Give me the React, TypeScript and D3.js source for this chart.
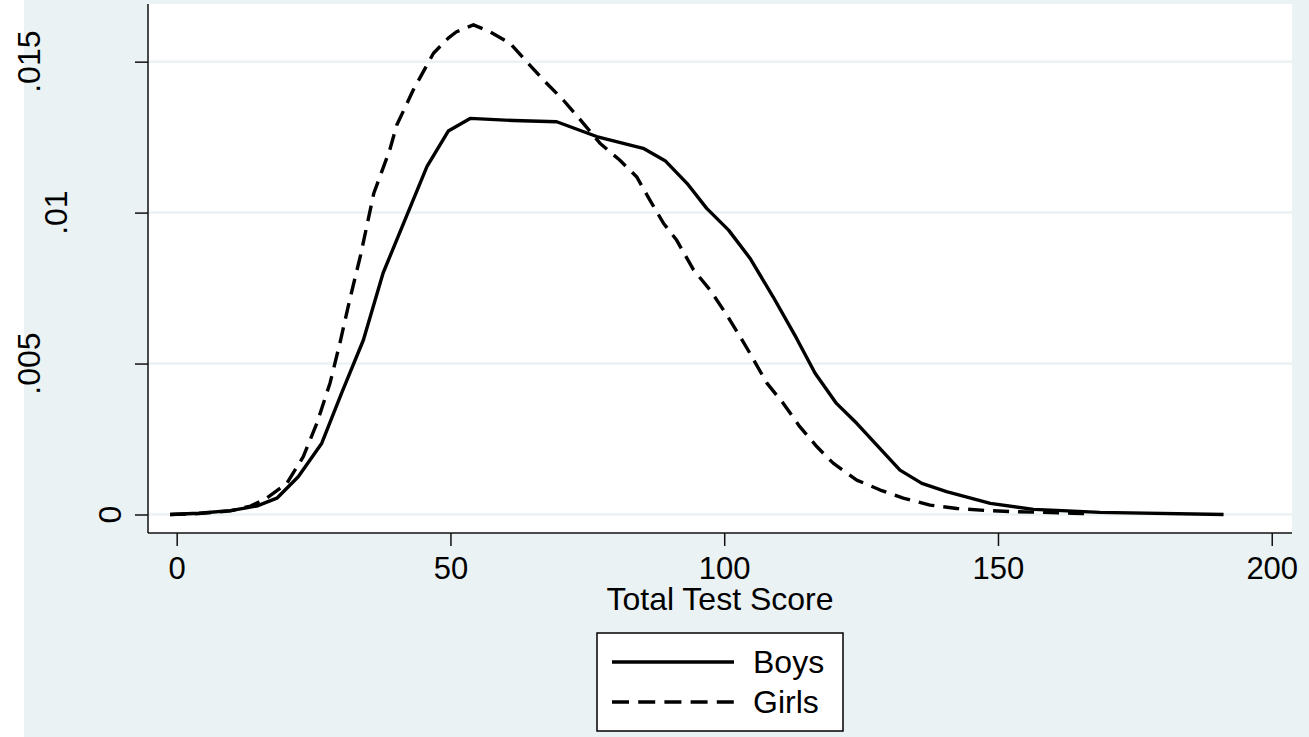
import React, { useEffect, useRef } from "react";
import * as d3 from "d3";

// kernel density estimates: [score, density]
const boysScore = [-1.2, 4, 9.8, 14.6, 18.3, 22.2, 26.5, 30.1, 34.1, 37.7, 45.7, 49.6, 53.6, 61.5, 69.4, 76.7, 85.2, 89.2, 93.2, 96.8, 100.8, 104.7, 108.9, 113.2, 116.6, 120.5, 124.2, 132.1, 136.1, 140.6, 148.6, 156.5, 168.6, 191.2];
const boysDensity = [0, 0.00004, 0.00013, 0.00028, 0.00054, 0.00125, 0.00236, 0.00401, 0.00578, 0.008, 0.01152, 0.0127, 0.01312, 0.01305, 0.01301, 0.01252, 0.01213, 0.01172, 0.01097, 0.01014, 0.00942, 0.00849, 0.00722, 0.00584, 0.00468, 0.00368, 0.00302, 0.00147, 0.00103, 0.00076, 0.00037, 0.00017, 0.00007, 0];

const girlsScore = [-1.2, 4, 9.8, 13.5, 16.4, 20.1, 23.1, 25.6, 28.0, 29.8, 31.6, 33.6, 36.0, 38.9, 40.2, 43.2, 46.9, 49.6, 51.1, 54.2, 57.2, 60.9, 63.9, 67.0, 70.6, 73.5, 77.3, 80.9, 84.0, 86.4, 88.9, 91.3, 94.4, 97.4, 100.5, 102.9, 104.7, 107.8, 110.8, 113.8, 116.9, 119.9, 124.2, 128.5, 132.7, 137.6, 142.5, 148.0, 153.4, 158.3, 163.7, 166];
const girlsDensity = [0, 0.00003, 0.00012, 0.00028, 0.00054, 0.00103, 0.00191, 0.00302, 0.00435, 0.00567, 0.00711, 0.0086, 0.01064, 0.01207, 0.0129, 0.01406, 0.01528, 0.01578, 0.01599, 0.01622, 0.01599, 0.01561, 0.015, 0.01439, 0.01373, 0.01312, 0.0123, 0.01174, 0.01119, 0.01042, 0.00965, 0.00909, 0.0081, 0.00744, 0.0066, 0.00589, 0.00534, 0.00435, 0.00368, 0.00291, 0.00225, 0.0017, 0.00114, 0.00081, 0.00054, 0.00031, 0.0002, 0.00013, 0.00009, 0.00007, 0.00004, 0.00003];

const xTicks = [0, 50, 100, 150, 200];
const yTicks = [0, 0.005, 0.01, 0.015];
const yTickLabels = ["0", ".005", ".01", ".015"];
const seriesNames = ["Boys", "Girls"];

const width = 1309;
const height = 737;
const bg = "#eaf2f3";
const font = "'Liberation Sans', Arial, Helvetica, sans-serif";

export default function App() {
  const ref = useRef<SVGSVGElement>(null);

  useEffect(() => {
    const svg = d3.select(ref.current);
    svg.selectAll("*").remove();

    const plot = { left: 148, right: 1292, top: 4, bottom: 533 };

    const x = d3.scaleLinear().domain([-5.24, 203.7]).range([plot.left, plot.right]);
    const y = d3.scaleLinear().domain([-0.000613, 0.01691]).range([plot.bottom, plot.top]);

    // backgrounds
    svg.append("rect").attr("width", width).attr("height", height).attr("fill", "#ffffff");
    svg.append("rect").attr("x", 24).attr("width", width - 24).attr("height", height).attr("fill", bg);
    svg.append("rect")
      .attr("x", plot.left).attr("y", plot.top)
      .attr("width", plot.right - plot.left).attr("height", plot.bottom - plot.top)
      .attr("fill", "#ffffff");

    // gridlines
    svg.append("g").selectAll("line").data(yTicks).join("line")
      .attr("x1", plot.left).attr("x2", plot.right)
      .attr("y1", d => y(d)).attr("y2", d => y(d))
      .attr("stroke", bg).attr("stroke-width", 2.5);

    // curves
    const line = d3.line<[number, number]>().x(d => x(d[0])).y(d => y(d[1]));
    const boys: [number, number][] = boysScore.map((s, i) => [s, boysDensity[i]]);
    const girls: [number, number][] = girlsScore.map((s, i) => [s, girlsDensity[i]]);

    svg.append("path").datum(girls).attr("d", line)
      .attr("fill", "none").attr("stroke", "#000").attr("stroke-width", 3.4)
      .attr("stroke-dasharray", "16 9").attr("stroke-linejoin", "round");
    svg.append("path").datum(boys).attr("d", line)
      .attr("fill", "none").attr("stroke", "#000").attr("stroke-width", 3.4)
      .attr("stroke-linejoin", "round");

    // axes
    const axisColor = "#111";
    const xAxis = svg.append("g").attr("transform", `translate(0,${plot.bottom})`)
      .call(d3.axisBottom(x).tickValues(xTicks).tickSize(13).tickSizeOuter(0).tickFormat(d3.format("d")));
    xAxis.select(".domain").attr("stroke", axisColor).attr("stroke-width", 1.5)
      .attr("d", `M${plot.left},0H${plot.right}`);
    xAxis.selectAll(".tick line").attr("stroke", axisColor).attr("stroke-width", 1.5);
    xAxis.selectAll(".tick text")
      .attr("font-family", font).attr("font-size", 31).attr("fill", "#000")
      .attr("y", 46).attr("dy", null);

    const yAxis = svg.append("g").attr("transform", `translate(${plot.left},0)`)
      .call(d3.axisLeft(y).tickValues(yTicks).tickSize(13).tickSizeOuter(0).tickFormat(() => ""));
    yAxis.select(".domain").attr("stroke", axisColor).attr("stroke-width", 1.5)
      .attr("d", `M0,${plot.top}V${plot.bottom}`);
    yAxis.selectAll(".tick line").attr("stroke", axisColor).attr("stroke-width", 1.5);
    yAxis.selectAll(".tick text").remove();

    // rotated y labels, offset by length the way the original is
    svg.append("g").selectAll("text").data(yTicks).join("text")
      .attr("transform", (d, i) => `translate(${plot.left - 27 * yTickLabels[i].length},${y(d)}) rotate(-90)`)
      .attr("text-anchor", "middle")
      .attr("font-family", font).attr("font-size", 32).attr("fill", "#000")
      .text((d, i) => yTickLabels[i]);

    // x title
    svg.append("text")
      .attr("x", (plot.left + plot.right) / 2).attr("y", 610)
      .attr("text-anchor", "middle")
      .attr("font-family", font).attr("font-size", 32).attr("fill", "#000")
      .text("Total Test Score");

    // legend
    const lg = svg.append("g");
    lg.append("rect").attr("x", 597).attr("y", 633).attr("width", 246).attr("height", 98)
      .attr("fill", "#fff").attr("stroke", "#000").attr("stroke-width", 1.5);
    const rows = lg.selectAll("g.row").data(seriesNames).join("g")
      .attr("class", "row")
      .attr("transform", (d, i) => `translate(0,${662 + i * 40})`);
    rows.append("line").attr("x1", 612).attr("x2", 734).attr("y1", 0).attr("y2", 0)
      .attr("stroke", "#000").attr("stroke-width", 3.4)
      .attr("stroke-dasharray", (d, i) => (i === 1 ? "17 9.2" : null));
    rows.append("text").attr("x", 753).attr("y", 11)
      .attr("font-family", font).attr("font-size", 32).attr("fill", "#000")
      .text(d => d);
  }, []);

  return (
    <svg ref={ref} width={width} height={height}
      style={{ position: "absolute", left: 0, top: 0, display: "block" }} />
  );
}
